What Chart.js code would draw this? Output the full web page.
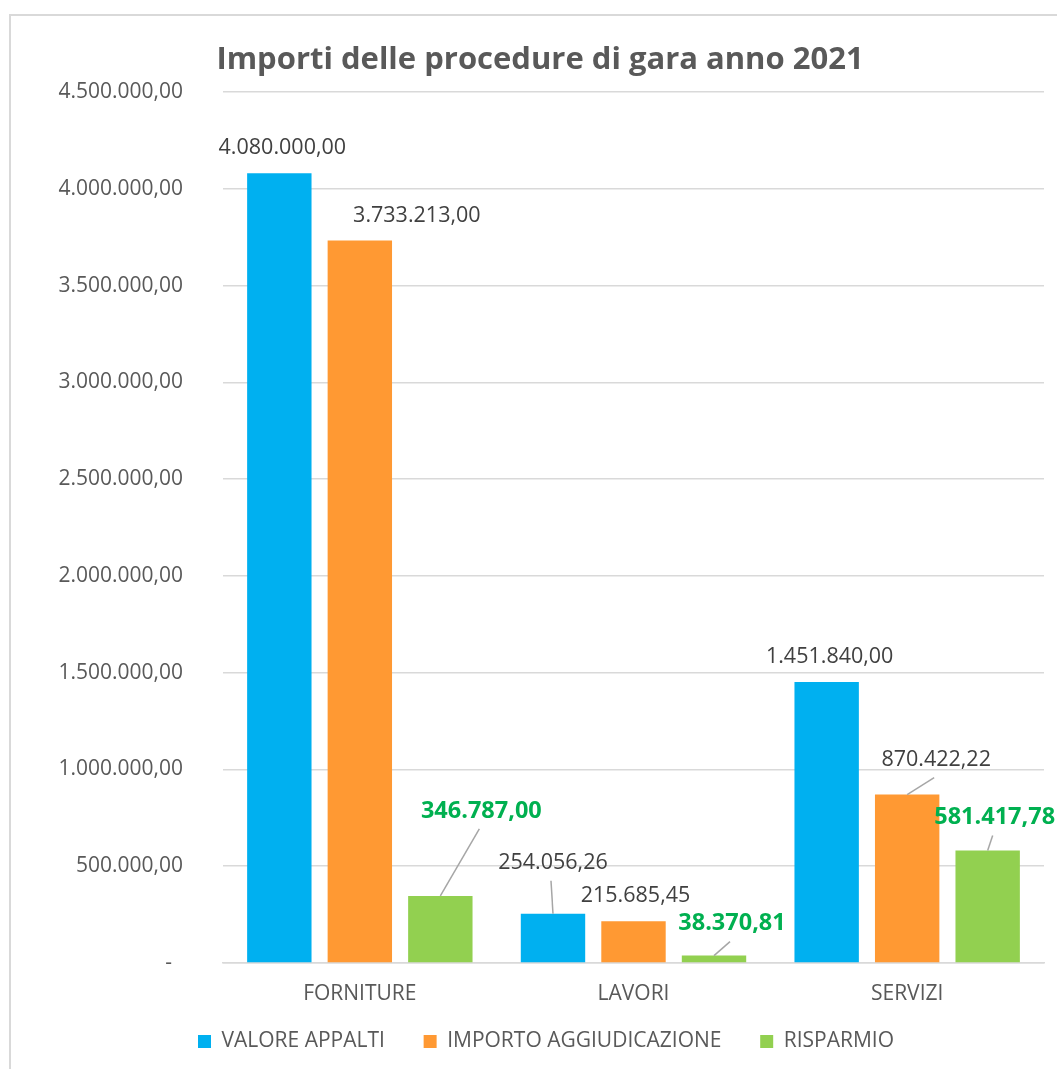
<!DOCTYPE html>
<html>
<head>
<meta charset="utf-8">
<script src="https://cdn.jsdelivr.net/npm/chart.js@4.4.0/dist/chart.umd.min.js"></script>
<style>
  body { margin: 0; background: #fff; overflow: hidden; }
  #frame { position: absolute; left: 9px; top: 14px; width: 1200px; height: 1200px; border: 2px solid #d9d9d9; }
  #chart { position: absolute; left: 0; top: 0; }
</style>
</head>
<body>
<div id="frame"></div>
<canvas id="chart" width="1057" height="1069"></canvas>
<script>
const categories = ['FORNITURE', 'LAVORI', 'SERVIZI'];
const seriesNames = ['VALORE APPALTI', 'IMPORTO AGGIUDICAZIONE', 'RISPARMIO'];
const valoreAppalti = [4080000, 254056.26, 1451840];
const importoAggiudicazione = [3733213, 215685.45, 870422.22];
const risparmio = [346787, 38370.81, 581417.78];
const yTicks = [0, 500000, 1000000, 1500000, 2000000, 2500000, 3000000, 3500000, 4000000, 4500000];

const colors = ['#00B0F0', '#FF9933', '#92D050'];

// label placement, relative to the top centre of each bar
const labelOffsets = [
    [[3, -25], [0, -51], [3, -25]],
    [[57, -25], [2, -25], [29, -35]],
    [[41, -85], [18, -32], [7, -33]]
];
const leaders = [
    [false, true, false],
    [false, false, true],
    [true, true, true]
];

function fmt(v) {
    const parts = v.toFixed(2).split('.');
    const intPart = parts[0].replace(/\B(?=(\d{3})+(?!\d))/g, '.');
    return intPart + ',' + parts[1];
}

const valueLabels = {
    id: 'valueLabels',
    afterLayout(chart) {
        // title and legend in the original sit a little right of centre
        if (chart.legend) {
            chart.legend.left += 24;
            chart.legend.right += 24;
        }
        if (chart.titleBlock) {
            chart.titleBlock.left += 18;
            chart.titleBlock.right += 18;
        }
    },
    afterDatasetsDraw(chart) {
        const ctx = chart.ctx;
        ctx.save();
        chart.data.datasets.forEach((ds, i) => {
            const meta = chart.getDatasetMeta(i);
            meta.data.forEach((bar, j) => {
                const off = labelOffsets[i][j];
                const lx = bar.x + off[0];
                const ly = bar.y + off[1];
                if (leaders[i][j]) {
                    ctx.strokeStyle = '#a6a6a6';
                    ctx.lineWidth = 1.5;
                    ctx.beginPath();
                    ctx.moveTo(bar.x, bar.y);
                    ctx.lineTo(lx - 2, ly + 18);
                    ctx.stroke();
                }
                if (i === 2) {
                    ctx.font = 'bold 23.5px "Open Sans"';
                    ctx.fillStyle = '#00B050';
                } else {
                    ctx.font = '21.5px "Open Sans"';
                    ctx.fillStyle = '#404040';
                }
                ctx.textAlign = 'center';
                ctx.textBaseline = 'middle';
                ctx.fillText(fmt(ds.data[j]), lx, ly);
            });
        });
        ctx.restore();
    }
};

const ctx = document.getElementById('chart').getContext('2d');
new Chart(ctx, {
    type: 'bar',
    data: {
        labels: categories,
        datasets: [
            { label: seriesNames[0], data: valoreAppalti, backgroundColor: colors[0] },
            { label: seriesNames[1], data: importoAggiudicazione, backgroundColor: colors[1] },
            { label: seriesNames[2], data: risparmio, backgroundColor: colors[2] }
        ]
    },
    options: {
        responsive: false,
        animation: false,
        devicePixelRatio: 1,
        categoryPercentage: 0.8825,
        barPercentage: 0.8,
        layout: { padding: { left: 0, right: 13, top: 0, bottom: 7 } },
        plugins: {
            title: {
                display: true,
                text: 'Importi delle procedure di gara anno 2021',
                color: '#595959',
                font: { family: 'Open Sans', weight: 'bold', size: 31 },
                padding: { top: 41.4, bottom: 13.4 }
            },
            legend: {
                position: 'bottom',
                labels: {
                    boxWidth: 13,
                    boxHeight: 13,
                    padding: 6,
                    color: '#595959',
                    font: { family: 'Open Sans', size: 21 },
                    generateLabels(chart) {
                        const items = Chart.defaults.plugins.legend.labels.generateLabels(chart);
                        items.forEach((it, k) => {
                            if (k < items.length - 1) it.text += '      ';
                        });
                        return items;
                    }
                }
            },
            tooltip: { enabled: false }
        },
        scales: {
            x: {
                grid: { display: false, drawTicks: false },
                border: { color: '#d9d9d9', width: 1.5 },
                ticks: { color: '#595959', padding: 18.4, font: { family: 'Open Sans', size: 21 } }
            },
            y: {
                min: 0,
                max: 4500000,
                afterFit(scale) { scale.width = 223; },
                afterBuildTicks(scale) { scale.ticks = yTicks.map(v => ({ value: v })); },
                grid: { color: '#d9d9d9', lineWidth: 1.5, drawTicks: false },
                border: { display: false },
                ticks: {
                    color: '#595959',
                    padding: 40,
                    font: { family: 'Open Sans', size: 21 },
                    callback: v => v === 0 ? '-  ' : fmt(v)
                }
            }
        }
    },
    plugins: [valueLabels]
});
</script>
</body>
</html>
